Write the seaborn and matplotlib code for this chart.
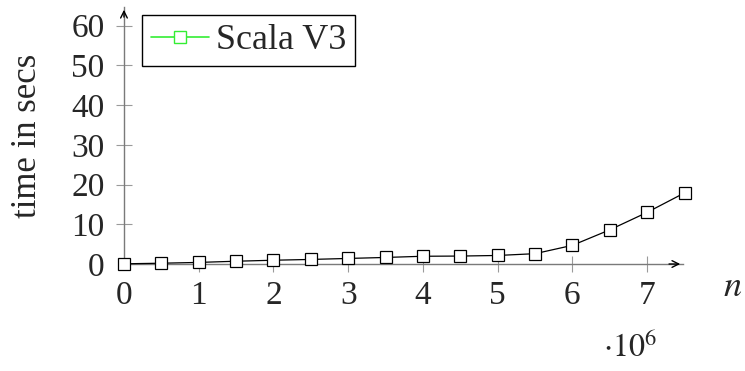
import numpy as np
import pandas as pd
import matplotlib
matplotlib.use("Agg")
import matplotlib.pyplot as plt
from matplotlib.lines import Line2D
import seaborn as sns

# problem size n (in millions) and run time in seconds
n_millions = [0.0, 0.5, 1.0, 1.5, 2.0, 2.5, 3.0, 3.5, 4.0, 4.5, 5.0, 5.5, 6.0, 6.5, 7.0, 7.5]
time_secs = [0.05, 0.2, 0.4, 0.7, 0.95, 1.15, 1.4, 1.65, 1.95, 2.0, 2.15, 2.6, 4.7, 8.6, 13.0, 17.9]

x_ticks = [0, 1, 2, 3, 4, 5, 6, 7]
y_ticks = [0, 10, 20, 30, 40, 50, 60]
series_name = "Scala V3"

df = pd.DataFrame({"n": n_millions, "time": time_secs})

sns.set_theme(style="white")
plt.rcParams["font.family"] = ["Liberation Serif", "DejaVu Serif"]
plt.rcParams["mathtext.fontset"] = "stix"

fig = plt.figure(figsize=(7.45, 3.71), dpi=100)
ax = fig.add_axes([0.1664, 0.2884, 0.7504, 0.6927])

sns.lineplot(
    data=df,
    x="n",
    y="time",
    color="black",
    linewidth=0.9,
    marker="s",
    markersize=8,
    markerfacecolor="white",
    markeredgecolor="black",
    markeredgewidth=0.9,
    ax=ax,
    clip_on=False,
    zorder=5,
)

ax.set_xlim(0, 7.48)
ax.set_ylim(0, 64.7)
ax.set_xticks(x_ticks)
ax.set_yticks(y_ticks)
ax.set_xlabel("")
ax.set_ylabel("time in secs", fontsize=25, va="center")
ax.yaxis.set_label_coords(-0.172, 0.5)

for side in ["top", "right"]:
    ax.spines[side].set_visible(False)
for side in ["left", "bottom"]:
    ax.spines[side].set_color("#7a7a7a")
    ax.spines[side].set_linewidth(1.0)

ax.tick_params(
    axis="both",
    direction="inout",
    length=12,
    width=0.8,
    color="#9a9a9a",
    labelsize=24,
    bottom=True,
    left=True,
)
ax.tick_params(axis="x", pad=6)
ax.tick_params(axis="y", pad=8)
ax.xaxis.get_major_ticks()[0].tick1line.set_visible(False)
ax.yaxis.get_major_ticks()[0].tick1line.set_visible(False)

# arrow heads at the ends of the axes
ax.annotate("", xy=(1.0, 0), xytext=(0.97, 0),
            xycoords=("axes fraction", "data"),
            arrowprops=dict(arrowstyle="->", color="black", lw=1.0))
ax.annotate("", xy=(0, 1.0), xytext=(0, 0.95),
            xycoords=("data", "axes fraction"),
            arrowprops=dict(arrowstyle="->", color="black", lw=1.0))

fig.text(733 / 745, 1 - 287 / 371, "$n$", fontsize=26, ha="center", va="center",
         fontstyle="italic", fontweight="bold")
fig.text(630 / 745, 1 - 348 / 371, r"$\cdot 10^{6}$", fontsize=23,
         ha="center", va="center")

handle = Line2D([], [], color="#33ee33", lw=1.2, marker="s", markersize=8,
                markerfacecolor="white", markeredgecolor="#33ee33")
leg = ax.legend([handle], [series_name], loc="upper left",
                bbox_to_anchor=(142 / 745, 1 - 15 / 371),
                bbox_transform=fig.transFigure,
                fontsize=26, frameon=True, fancybox=False, framealpha=1,
                edgecolor="black", borderpad=0.25, handlelength=1.6,
                handletextpad=0.2, borderaxespad=0)
leg.get_frame().set_linewidth(1.0)

fig.savefig("out.png", dpi=100)
